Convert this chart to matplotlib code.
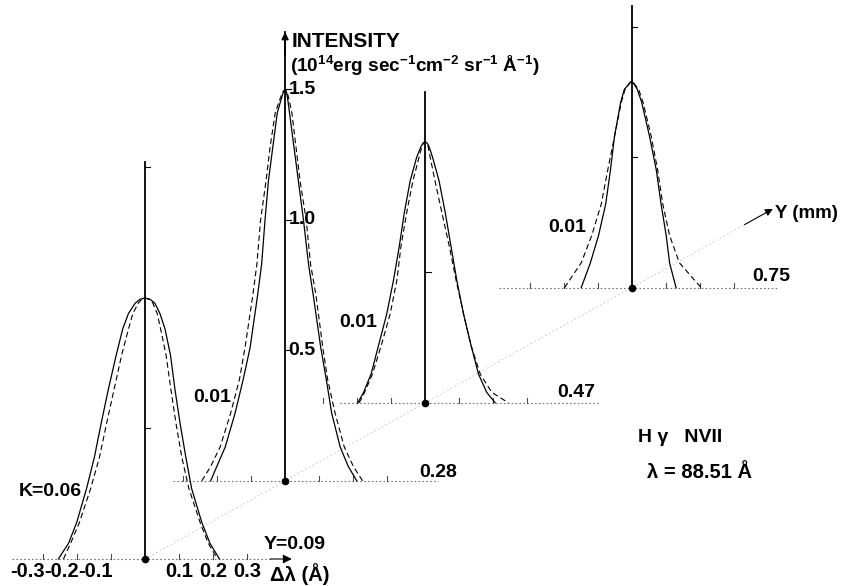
import numpy as np
import matplotlib
matplotlib.use('Agg')
import matplotlib.pyplot as plt
import matplotlib.transforms as mtransforms

plt.rcParams['font.family'] = ['Liberation Sans', 'DejaVu Sans']
plt.rcParams['font.weight'] = 'bold'
plt.rcParams['mathtext.default'] = 'regular'

# position of each profile along the Y axis (mm)
y_mm = [0.09, 0.28, 0.47, 0.75]
y_labels = ['Y=0.09', '0.28', '0.47', '0.75']
k_labels = ['K=0.06', '0.01', '0.01', '0.01']
peak = [1.0, 1.5, 1.0, 0.79]

# profiles read level by level: intensity, then left / right edge in delta-lambda (A)
lev1 = [0.995, 0.98, 0.94, 0.88, 0.78, 0.65, 0.52, 0.39, 0.27, 0.14, 0.06, 0.0]
sol1_l = [-0.015, -0.029, -0.049, -0.066, -0.085, -0.108, -0.129, -0.149, -0.172, -0.201, -0.225, -0.255]
sol1_r = [0.015, 0.029, 0.044, 0.059, 0.075, 0.088, 0.103, 0.120, 0.137, 0.167, 0.191, 0.219]
dash1_l = [-0.010, -0.020, -0.036, -0.049, -0.069, -0.091, -0.113, -0.134, -0.160, -0.193, -0.219, -0.240]
dash1_r = [0.012, 0.023, 0.036, 0.046, 0.062, 0.076, 0.091, 0.108, 0.129, 0.162, 0.186, 0.213]

lev2 = [1.49, 1.46, 1.41, 1.28, 1.15, 1.00, 0.83, 0.71, 0.51, 0.39, 0.26, 0.13, 0.055, 0.0]
sol2_l = [-0.005, -0.012, -0.023, -0.036, -0.049, -0.059, -0.069, -0.081, -0.103, -0.123, -0.147, -0.176, -0.201, -0.219]
sol2_r = [0.004, 0.008, 0.013, 0.026, 0.039, 0.054, 0.069, 0.083, 0.105, 0.121, 0.137, 0.162, 0.186, 0.211]
dash2_l = [-0.007, -0.016, -0.029, -0.044, -0.056, -0.072, -0.083, -0.095, -0.118, -0.134, -0.160, -0.191, -0.219, -0.245]
dash2_r = [0.006, 0.012, 0.020, 0.032, 0.044, 0.062, 0.075, 0.091, 0.111, 0.125, 0.147, 0.174, 0.201, 0.228]

lev3 = [0.995, 0.98, 0.94, 0.85, 0.73, 0.60, 0.47, 0.34, 0.22, 0.11, 0.04, 0.0]
sol3_l = [-0.006, -0.013, -0.025, -0.044, -0.061, -0.076, -0.093, -0.113, -0.137, -0.159, -0.181, -0.198]
sol3_r = [0.006, 0.012, 0.022, 0.041, 0.059, 0.076, 0.093, 0.113, 0.135, 0.157, 0.181, 0.206]
dash3_l = [-0.005, -0.010, -0.018, -0.036, -0.054, -0.071, -0.083, -0.103, -0.129, -0.155, -0.178, -0.194]
dash3_r = [0.005, 0.009, 0.015, 0.029, 0.049, 0.071, 0.091, 0.113, 0.135, 0.162, 0.196, 0.245]

lev4 = [0.785, 0.775, 0.76, 0.71, 0.58, 0.45, 0.32, 0.20, 0.095, 0.0]
sol4_l = [-0.005, -0.011, -0.021, -0.032, -0.050, -0.062, -0.076, -0.097, -0.121, -0.148]
sol4_r = [0.005, 0.010, 0.017, 0.030, 0.053, 0.073, 0.087, 0.102, 0.112, 0.131]
dash4_l = [-0.005, -0.010, -0.019, -0.030, -0.050, -0.070, -0.089, -0.117, -0.148, -0.197]
dash4_r = [0.006, 0.012, 0.021, 0.034, 0.058, 0.077, 0.092, 0.112, 0.141, 0.205]

levels = [lev1, lev2, lev3, lev4]
solid_l = [sol1_l, sol2_l, sol3_l, sol4_l]
solid_r = [sol1_r, sol2_r, sol3_r, sol4_r]
dash_l = [dash1_l, dash2_l, dash3_l, dash4_l]
dash_r = [dash1_r, dash2_r, dash3_r, dash4_r]

# drawing of the frame of each profile
axis_top = [1.52, 1.72, 1.19, 1.08]
vticks = [[0.5, 1.5], [0.5, 1.0, 1.5], [0.5], [0.5, 1.0]]
base_l = [-0.39, -0.33, -0.25, -0.39]
base_r = [0.37, 0.45, 0.51, 0.43]
dl_ticks = [-0.3, -0.2, -0.1, 0.1, 0.2, 0.3]
int_ticks = [0.5, 1.0, 1.5]

# oblique projection of the Y axis (data units per mm)
KX = 2.168
KY = 1.575


def profile(pk, lev, left, right):
    x = list(left[::-1]) + [0.0] + list(right)
    y = list(lev[::-1]) + [pk] + list(lev)
    return np.array(x), np.array(y)


fig = plt.figure(figsize=(8.44, 5.86), dpi=100)
ax = fig.add_axes([0, 0, 1, 1])
ax.set_xlim(-0.2315, 2.251)
ax.set_ylim(0.0383, 2.2835)
ax.axis('off')

# Y axis through the foot of every profile
yy = np.array([y_mm[0], 0.905])
ax.plot(KX * yy, KY * yy, ls=(0, (2, 3)), color='0.75', lw=0.6, zorder=1)
ax.annotate('', xy=(KX * 0.945, KY * 0.945), xytext=(KX * 0.90, KY * 0.90),
            arrowprops=dict(arrowstyle='-|>', color='k', lw=0.8, mutation_scale=11))

panel_tr = []
for i, y in enumerate(y_mm):
    tr = mtransforms.Affine2D().translate(KX * y, KY * y) + ax.transData
    panel_tr.append(tr)

    # baseline with ticks
    ax.plot([base_l[i], base_r[i]], [0, 0], ls=(0, (1.5, 2)), color='0.45', lw=0.8,
            transform=tr, zorder=2)
    for t in dl_ticks:
        ax.plot([t, t], [0, 0.018], color='0.3', lw=0.8, transform=tr, zorder=2)

    # vertical intensity axis
    ax.plot([0, 0], [0, axis_top[i]], color='k', lw=1.3, transform=tr, zorder=3)
    for t in vticks[i]:
        ax.plot([0, 0.016], [t, t], color='k', lw=0.8, transform=tr, zorder=3)
    ax.plot([0], [0], 'o', color='k', ms=4.5, transform=tr, zorder=4)

    # measured (solid) and fitted (dashed) profiles
    xs, ys = profile(peak[i], levels[i], solid_l[i], solid_r[i])
    ax.plot(xs, ys, color='k', lw=0.9, transform=tr, zorder=3)
    xd, yd = profile(peak[i], levels[i], dash_l[i], dash_r[i])
    ax.plot(xd, yd, color='k', lw=0.8, ls=(0, (5, 3)), transform=tr, zorder=3)

fs = 14
# labels of each profile
y_lab_pos = [(0.44, 0.054), (0.45, 0.034), (0.444, 0.038), (0.41, 0.042)]
k_lab_pos = [(-0.28, 0.257), (-0.215, 0.318), (-0.197, 0.307), (-0.188, 0.23)]
for i in range(4):
    ax.text(*y_lab_pos[i], y_labels[i], transform=panel_tr[i], ha='center', va='center',
            fontsize=fs, fontweight='bold')
    ax.text(*k_lab_pos[i], k_labels[i], transform=panel_tr[i], ha='center', va='center',
            fontsize=fs, fontweight='bold')

# delta-lambda axis of the first profile
tr0 = panel_tr[0]
ax.annotate('', xy=(0.44, 0), xytext=(0.36, 0), xycoords=tr0, textcoords=tr0,
            arrowprops=dict(arrowstyle='-|>', color='k', lw=0.8, mutation_scale=13))
for t in dl_ticks:
    if t < 0:
        ax.text(t + 0.005, -0.046, '%.1f' % t, transform=tr0, ha='right', va='center',
                fontsize=fs + 0.5, fontweight='bold')
    else:
        ax.text(t, -0.046, '%.1f' % t, transform=tr0, ha='center', va='center',
                fontsize=fs + 0.5, fontweight='bold')
ax.text(0.456, -0.057, 'Δλ (Å)', transform=tr0, ha='center', va='center',
        fontsize=fs + 0.5, fontweight='bold')

# intensity axis of the second profile
tr1 = panel_tr[1]
ax.annotate('', xy=(0, 1.73), xytext=(0, 1.62), xycoords=tr1, textcoords=tr1,
            arrowprops=dict(arrowstyle='-|>', color='k', lw=1.2, mutation_scale=10))
for t in int_ticks:
    ax.text(0.01, t, '%.1f' % t, transform=tr1, ha='left', va='center',
            fontsize=fs, fontweight='bold')
ax.text(0.02, 1.682, 'INTENSITY', transform=tr1, ha='left', va='center',
        fontsize=fs + 1, fontweight='bold')
ax.text(0.013, 1.59, '(10$^{14}$erg sec$^{-1}$cm$^{-2}$ sr$^{-1}$ Å$^{-1}$)', transform=tr1,
        ha='left', va='center', fontsize=fs - 0.3, fontweight='bold')

fig.text(775 / 844, 1 - 213 / 586, 'Y (mm)', ha='left', va='center', fontsize=fs - 0.5,
         fontweight='bold')
fig.text(638 / 844, 1 - 437 / 586, 'H γ   NVII', ha='left', va='center', fontsize=fs,
         fontweight='bold')
fig.text(647 / 844, 1 - 473 / 586, 'λ = 88.51 Å', ha='left', va='center', fontsize=fs + 0.5,
         fontweight='bold')

fig.savefig('out.png', dpi=100)
